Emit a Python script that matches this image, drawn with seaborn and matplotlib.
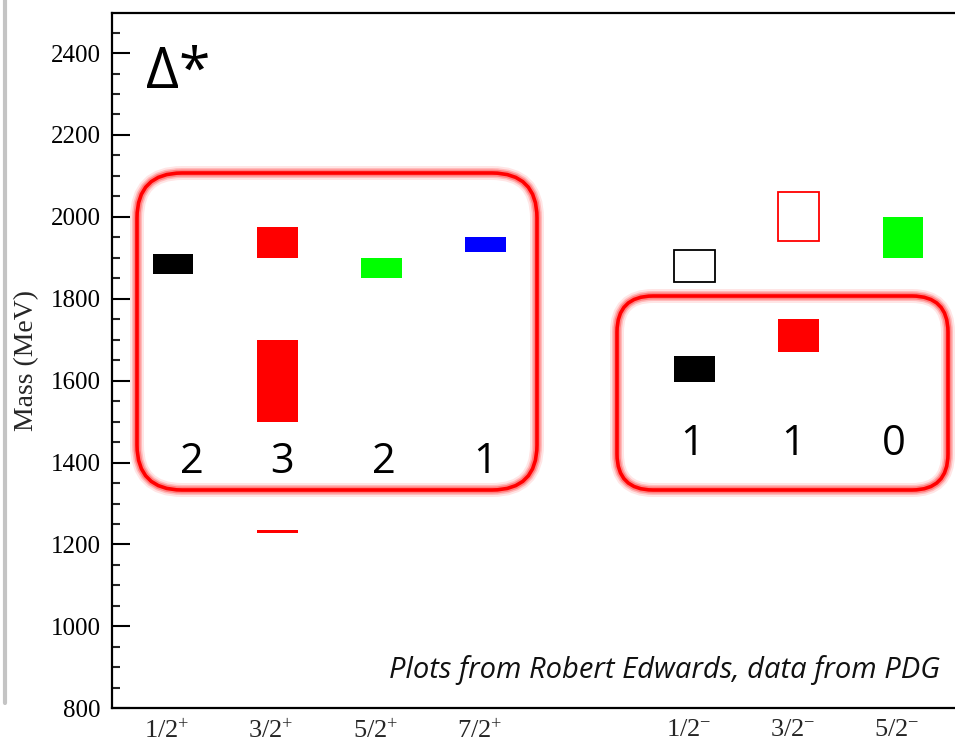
import numpy as np
import pandas as pd
import matplotlib
matplotlib.use("Agg")
import matplotlib.pyplot as plt
import matplotlib.transforms as mtransforms
from matplotlib.patches import FancyBboxPatch
from matplotlib.lines import Line2D
from matplotlib.ticker import MultipleLocator, FixedLocator
import seaborn as sns

# ---------------- data ----------------
spin_parity_labels = [r"1/2$^{+}$", r"3/2$^{+}$", r"5/2$^{+}$", r"7/2$^{+}$",
                      r"1/2$^{-}$", r"3/2$^{-}$", r"5/2$^{-}$"]
spin_parity_pos = [0, 1, 2, 3, 5, 6, 7]

# Delta* states (PDG mass ranges, MeV)
state_pos = [0, 1, 1, 1, 2, 3, 5, 5, 6, 6, 7]
state_lo = [1860, 1900, 1500, 1229, 1850, 1915, 1840, 1597, 1940, 1670, 1900]
state_hi = [1910, 1975, 1700, 1235, 1900, 1950, 1920, 1660, 2060, 1750, 2000]
state_color = ["black", "red", "red", "red", "#00ff00", "blue",
               "black", "black", "red", "red", "#00ff00"]
state_filled = [True, True, True, True, True, True,
                False, True, False, True, True]

# counts of states per spin-parity shown in the boxes
state_counts = ["2", "3", "2", "1", "1", "1", "0"]

y_ticks = [800, 1000, 1200, 1400, 1600, 1800, 2000, 2200, 2400]

# ---------------- layout / style ----------------
W, H = 955, 744
count_dx = [0.18, 0.05, 0.02, -0.01, -0.02, -0.05, -0.09]   # label offsets (x units)
count_base = [1374, 1374, 1374, 1374, 1418, 1418, 1418]      # baseline (MeV)

sns.set_theme(style="ticks")
plt.rcParams["font.family"] = ["Liberation Serif", "DejaVu Serif"]
plt.rcParams["mathtext.fontset"] = "custom"
plt.rcParams["mathtext.rm"] = "Liberation Serif"
plt.rcParams["mathtext.it"] = "Liberation Serif:italic"
plt.rcParams["mathtext.bf"] = "Liberation Serif:bold"

fig = plt.figure(figsize=(W / 100, H / 100), dpi=100)
fig.patch.set_facecolor("white")
ax_left, ax_bottom, ax_top = 112, 708.3, 13.3
ax = fig.add_axes([ax_left / W, (H - ax_bottom) / H, 1 - ax_left / W, (ax_bottom - ax_top) / H])
ax.set_facecolor("white")

for p, lo, hi, c, f in zip(state_pos, state_lo, state_hi, state_color, state_filled):
    sns.barplot(x=[p], y=[hi - lo], bottom=lo, native_scale=True, orient="x",
                width=0.39, color=c, fill=f, saturation=1,
                linewidth=0 if f else 1.3, errorbar=None, ax=ax)

ax.set_xlim(-0.584, 7.50)
ax.set_ylim(800, 2497)

# ticks
ax.yaxis.set_major_locator(FixedLocator(y_ticks))
ax.yaxis.set_minor_locator(MultipleLocator(50))
ax.set_yticklabels([str(v) for v in y_ticks])
ax.tick_params(axis="y", which="major", direction="in", length=13, width=1.5,
               labelsize=18, pad=8, colors="black")
ax.tick_params(axis="y", which="minor", direction="in", length=5.5, width=1.5)
ax.set_xticks(spin_parity_pos)
ax.set_xticklabels(spin_parity_labels)
ax.tick_params(axis="x", which="both", length=0, labelsize=19, pad=8)
shift = mtransforms.ScaledTranslation(-6 / 100, 0, fig.dpi_scale_trans)
for lab in ax.get_xticklabels():
    lab.set_transform(lab.get_transform() + shift)

for s in ["left", "bottom", "top"]:
    ax.spines[s].set_visible(True)
    ax.spines[s].set_linewidth(1.6)
    ax.spines[s].set_color("black")
ax.spines["right"].set_visible(False)

ax.set_xlabel("")
ax.set_ylabel("Mass (MeV)", fontsize=20)
ax.yaxis.set_label_coords(-0.086, 0.5)

# counts
for x0, dx, yb, t in zip(spin_parity_pos, count_dx, count_base, state_counts):
    ax.text(x0 + dx, yb, t, ha="center", va="baseline", fontsize=30,
            family=["Open Sans", "DejaVu Sans"], color="black")

# Delta* title
fig.text(146 / W, (H - 88) / H, "Δ*", ha="left", va="baseline", fontsize=41,
         family=["Open Sans", "DejaVu Sans"], color="black")

# credit
fig.text(940 / W, (H - 678) / H, "Plots from Robert Edwards, data from PDG",
         ha="right", va="baseline", fontsize=21, style="italic",
         family=["Open Sans", "DejaVu Sans"], color="#111111")

# glowing rounded boxes (display pixel coords)
ident = mtransforms.IdentityTransform()
def glow_box(x0, y0_img, x1, y1_img, r):
    y0 = H - y1_img
    h = y1_img - y0_img
    for lw, a in [(14, 0.10), (10, 0.18), (7, 0.30)]:
        fig.add_artist(FancyBboxPatch((x0, y0), x1 - x0, h,
                                      boxstyle=f"round,pad=0,rounding_size={r}",
                                      transform=ident, fill=False, edgecolor="red",
                                      linewidth=lw * 0.72, alpha=a))
    fig.add_artist(FancyBboxPatch((x0, y0), x1 - x0, h,
                                  boxstyle=f"round,pad=0,rounding_size={r}",
                                  transform=ident, fill=False, edgecolor="red",
                                  linewidth=3.6 * 0.72))

glow_box(137, 173, 537, 490, 45)
glow_box(617, 296, 948, 490, 36)

# grey page edge on the left
fig.add_artist(Line2D([5, 5], [H - 703, H], transform=ident, color="#c4c4c4", lw=3))

fig.savefig("out.png", dpi=100, facecolor="white")
